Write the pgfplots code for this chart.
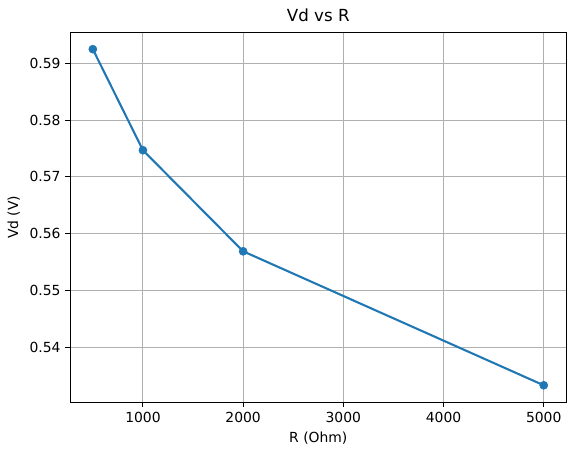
\documentclass[border=0pt]{standalone}
\usepackage{pgfplots}
\pgfplotsset{compat=1.18}
\usepackage{fontspec}
\setmainfont{DejaVu Sans}
\definecolor{tabblue}{RGB}{31,119,180}
\definecolor{darkgray176}{RGB}{176,176,176}

\begin{document}
\begin{tikzpicture}
\useasboundingbox (-50.6pt,-38.2pt) rectangle (364.1pt,289.5pt);
\begin{axis}[
  scale only axis,
  width=357.1pt, height=266.2pt,
  xmin=275, xmax=5225,
  ymin=0.53034, ymax=0.59546,
  xtick={1000,2000,3000,4000,5000},
  ytick={0.54,0.55,0.56,0.57,0.58,0.59},
  xticklabel style={/pgf/number format/1000 sep={}},
  yticklabel style={/pgf/number format/fixed, /pgf/number format/precision=2, /pgf/number format/fixed zerofill},
  /pgf/number format/assume math mode=true,
  tick align=outside, tick pos=left,
  major tick length=3.5pt,
  every tick/.style={black, line width=0.8pt},
  axis line style={line width=0.8pt},
  grid=major,
  major grid style={darkgray176, line width=0.8pt},
  title={Vd vs R},
  title style={font=\fontsize{12}{14}\selectfont, yshift=-2pt},
  xlabel={R (Ohm)}, ylabel={Vd (V)},
  label style={font=\fontsize{10}{12}\selectfont},
  tick label style={font=\fontsize{10}{12}\selectfont},
  scaled y ticks=false, scaled x ticks=false,
]
\addplot[tabblue, line width=1.5pt, mark=*, mark size=2.9pt,
  mark options={solid, fill=tabblue, draw=tabblue, line width=0.4pt}]
coordinates {
  (500, 0.5925)
  (1000, 0.5747)
  (2000, 0.5569)
  (5000, 0.5333)
};
\end{axis}
\end{tikzpicture}
\end{document}
